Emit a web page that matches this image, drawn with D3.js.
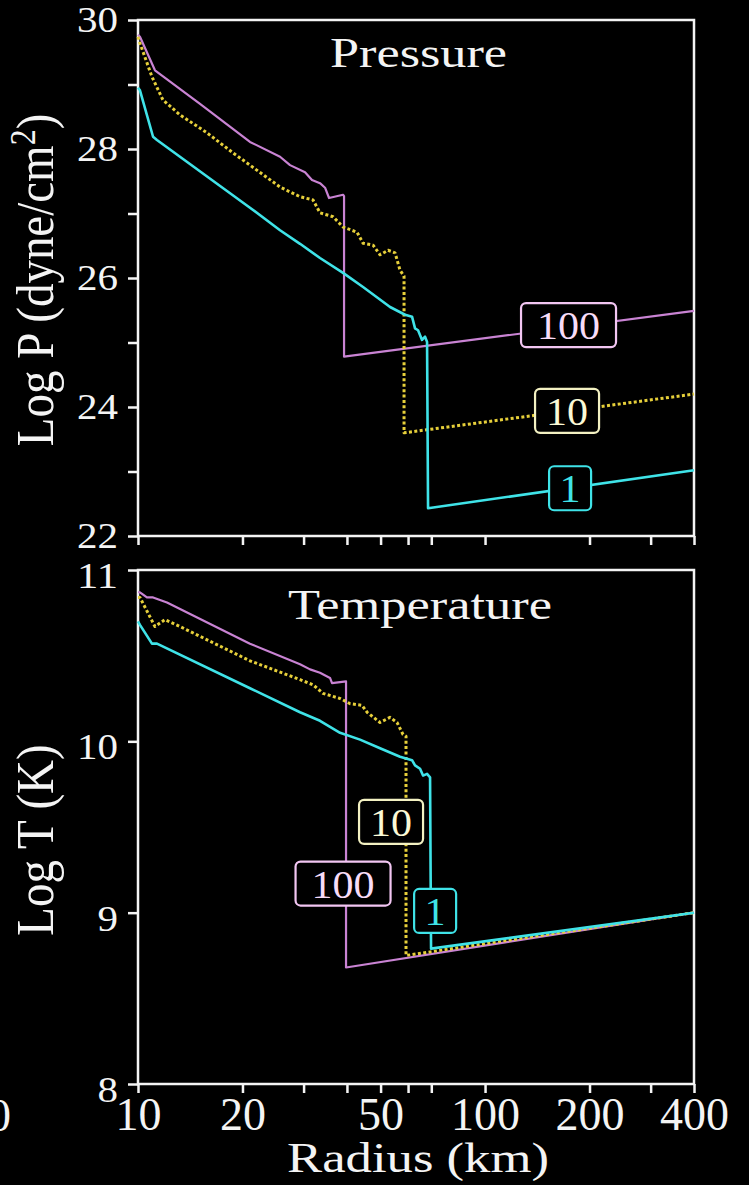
<html>
<head>
<script src="https://cdnjs.cloudflare.com/ajax/libs/d3/7.8.5/d3.min.js"></script>
<style>
  body { margin: 0; background: #000; }
  svg { display: block; }
  text { font-family: "Liberation Serif", "Times New Roman", Times, Tinos, serif; }
</style>
</head>
<body>
<script>

// ---- data (radius in km, log values) ----
var models = ["100", "10", "1"];
var modelColors = ["#c983d3", "#e6cf3a", "#3fe3e8"];
var boxColors = ["#f2c6f2", "#f3f1c2", "#3fe3e8"];
var boxText = ["#f8dcf8", "#fbf9d6", "#3fe3e8"];

var xTicks = [10, 20, 30, 40, 50, 60, 70, 100, 200, 300, 400];
var xTickLabels = [10, 20, 50, 100, 200, 400];
var pTicks = [22, 24, 26, 28, 30];
var pMinorTicks = [23, 25, 27, 29];
var tTicks = [8, 9, 10, 11];

var radiusP100 = [10, 10.13, 11.19, 15.09, 21.02, 25.66, 27.42, 30.29, 31.72, 33.45, 34.59, 35.52, 38.98, 39.24, 39.24, 400];
var logP100 = [29.77, 29.74, 29.22, 28.70, 28.11, 27.88, 27.75, 27.64, 27.52, 27.47, 27.40, 27.24, 27.29, 27.27, 24.78, 25.49];

var radiusP10 = [10, 10.13, 10.97, 11.80, 13.21, 15.81, 18.78, 21.02, 25.66, 29.30, 31.94, 33.45, 36.48, 38.98, 42.77, 44.51, 47.56, 49.82, 52.54, 55.04, 56.89, 58.42, 58.42, 400];
var logP10 = [29.74, 29.64, 29.12, 28.76, 28.53, 28.25, 27.94, 27.75, 27.41, 27.26, 27.21, 27.01, 26.95, 26.79, 26.71, 26.54, 26.51, 26.36, 26.43, 26.39, 26.12, 26.03, 23.60, 24.20];

var radiusP1 = [10, 10.13, 11.05, 11.34, 21.02, 25.66, 29.30, 33.45, 38.98, 44.51, 53.24, 58.81, 61.6, 62.84, 64.11, 65.83, 67.16, 68.06, 68.51, 400];
var logP1 = [28.95, 28.91, 28.19, 28.14, 27.09, 26.74, 26.53, 26.31, 26.08, 25.86, 25.55, 25.43, 25.40, 25.22, 25.19, 25.04, 25.09, 25.01, 22.43, 23.02];

var radiusT100 = [10, 10.13, 10.61, 11.05, 12.12, 21.02, 29.30, 31.31, 33.45, 35.75, 36.23, 39.76, 39.76, 400];
var logT100 = [10.87, 10.87, 10.84, 10.84, 10.81, 10.57, 10.45, 10.42, 10.40, 10.37, 10.34, 10.35, 8.68, 9.00];

var radiusT10 = [10, 10.13, 11.19, 11.96, 13.21, 21.02, 29.30, 31.94, 34.13, 38.21, 40.83, 44.22, 45.71, 49.82, 53.24, 55.77, 58.03, 59.19, 59.19, 400];
var logT10 = [10.84, 10.84, 10.67, 10.71, 10.67, 10.47, 10.36, 10.33, 10.28, 10.25, 10.22, 10.21, 10.17, 10.11, 10.14, 10.11, 10.04, 10.03, 8.75, 9.00];

var radiusT1 = [10, 10.13, 10.97, 11.34, 21.02, 29.30, 33.45, 38.21, 43.63, 49.82, 56.89, 61.6, 62.84, 64.97, 66.27, 68.06, 69.43, 69.89, 400];
var logT1 = [10.70, 10.68, 10.57, 10.57, 10.31, 10.17, 10.12, 10.05, 10.01, 9.96, 9.91, 9.89, 9.86, 9.84, 9.80, 9.81, 9.79, 8.79, 9.00];

// label positions (radius, log value) for the boxed model names
var pLabelRadius = [174, 172.3, 175.8];
var pLabelValue = [25.27, 23.94, 22.74];
var tLabelRadius = [38.98, 53.6, 71.8];
var tLabelValue = [9.17, 9.53, 9.01];

// ---- layout ----
var viz = { "width": 749, "height": 1185 };
var left = 138, right = 694;
var ink = "#f4f4f4";

var svg = d3.select("body").append("svg")
    .attr("width", viz.width)
    .attr("height", viz.height)
    .style("background", "#000");

var x = d3.scaleLog().domain([10, 400]).range([left, right]);
var yP = d3.scaleLinear().domain([22, 30]).range([536, 20]);
var yT = d3.scaleLinear().domain([8, 11]).range([1084, 570]);

function stretchText(sel, perChar) {
    sel.attr("textLength", function() { return this.textContent.length * perChar; })
       .attr("lengthAdjust", "spacingAndGlyphs");
}

function drawPanel(y, majorTicks, minorTicks, showXLabels, labelShift) {
    var g = svg.append("g");

    // frame
    g.append("rect")
        .attr("x", left).attr("y", y.range()[1])
        .attr("width", right - left).attr("height", y.range()[0] - y.range()[1])
        .attr("fill", "none").attr("stroke", ink).attr("stroke-width", 2.5);

    var yAxis = g.append("g")
        .attr("transform", "translate(" + left + ",0)")
        .call(d3.axisLeft(y).tickValues(majorTicks).tickSize(10).tickSizeOuter(0).tickPadding(10).tickFormat(d3.format("d")));
    if (minorTicks.length) {
        g.append("g")
            .attr("transform", "translate(" + left + ",0)")
            .call(d3.axisLeft(y).tickValues(minorTicks).tickSize(10).tickSizeOuter(0).tickFormat(""));
    }

    var xAxis = g.append("g")
        .attr("transform", "translate(0," + y.range()[0] + ")")
        .call(d3.axisBottom(x).tickValues(xTicks).tickSize(9).tickSizeOuter(0).tickPadding(4)
            .tickFormat(function(d) { return (showXLabels && xTickLabels.indexOf(d) >= 0) ? d : ""; }));

    g.selectAll(".domain").remove();
    g.selectAll("g").attr("font-family", null);
    g.selectAll(".tick line").attr("stroke", ink).attr("stroke-width", 2.5);

    yAxis.selectAll("text")
        .attr("fill", ink).attr("font-size", 36)
        .attr("y", labelShift)
        .call(stretchText, 20.5);
    xAxis.selectAll("text")
        .attr("fill", ink).attr("font-size", 46);
    return g;
}

function drawSeries(g, y, radii, values, idx) {
    var pts = radii.map(function(r, i) { return [r, values[i]]; });
    var line = d3.line().x(function(d) { return x(d[0]); }).y(function(d) { return y(d[1]); });
    var path = g.append("path")
        .attr("d", line(pts))
        .attr("fill", "none")
        .attr("stroke", modelColors[idx])
        .attr("stroke-linejoin", "round");
    if (idx == 1) {
        path.attr("stroke-width", 3).attr("stroke-dasharray", "3,2.4");
    } else {
        path.attr("stroke-width", idx == 0 ? 2.2 : 2.6);
    }
}

function drawLabels(g, y, radii, values) {
    models.forEach(function(m, i) {
        var cx = x(radii[i]), cy = y(values[i]);
        var w = m.length == 3 ? 95 : (m.length == 2 ? 64 : 42);
        var h = 44;
        g.append("rect")
            .attr("x", cx - w / 2).attr("y", cy - h / 2)
            .attr("width", w).attr("height", h)
            .attr("rx", 5)
            .attr("fill", "#000")
            .attr("stroke", boxColors[i]).attr("stroke-width", 2.2);
        g.append("text")
            .attr("x", cx).attr("y", cy + 14)
            .attr("text-anchor", "middle")
            .attr("font-size", 40)
            .attr("fill", boxText[i])
            .text(m)
            .call(stretchText, 21);
    });
}

// ---- pressure panel ----
var pressurePanel = drawPanel(yP, pTicks, pMinorTicks, false, 0);
drawSeries(pressurePanel, yP, radiusP100, logP100, 0);
drawSeries(pressurePanel, yP, radiusP10, logP10, 1);
drawSeries(pressurePanel, yP, radiusP1, logP1, 2);
drawLabels(pressurePanel, yP, pLabelRadius, pLabelValue);

svg.append("text")
    .attr("x", 418.5).attr("y", 67)
    .attr("text-anchor", "middle")
    .attr("font-size", 42)
    .attr("fill", ink)
    .attr("textLength", 177).attr("lengthAdjust", "spacingAndGlyphs")
    .text("Pressure");

var pLabel = svg.append("text")
    .attr("transform", "translate(53,280) scale(1.12,1) rotate(-90)")
    .attr("text-anchor", "middle")
    .attr("font-size", 47)
    .attr("fill", ink);
pLabel.append("tspan").text("Log P (dyne/cm");
pLabel.append("tspan").attr("dy", -16).attr("font-size", 32).text("2");
pLabel.append("tspan").attr("dy", 16).text(")");

// ---- temperature panel ----
var tempPanel = drawPanel(yT, tTicks, [], true, 6);
drawSeries(tempPanel, yT, radiusT100, logT100, 0);
drawSeries(tempPanel, yT, radiusT10, logT10, 1);
drawSeries(tempPanel, yT, radiusT1, logT1, 2);
drawLabels(tempPanel, yT, tLabelRadius, tLabelValue);

svg.append("text")
    .attr("x", 420).attr("y", 619)
    .attr("text-anchor", "middle")
    .attr("font-size", 42)
    .attr("fill", ink)
    .attr("textLength", 264).attr("lengthAdjust", "spacingAndGlyphs")
    .text("Temperature");

svg.append("text")
    .attr("transform", "translate(53,840) scale(1.12,1) rotate(-90)")
    .attr("text-anchor", "middle")
    .attr("font-size", 47)
    .attr("fill", ink)
    .text("Log T (K)");

svg.append("text")
    .attr("x", 418).attr("y", 1172)
    .attr("text-anchor", "middle")
    .attr("font-size", 42)
    .attr("fill", ink)
    .attr("textLength", 262).attr("lengthAdjust", "spacingAndGlyphs")
    .text("Radius (km)");

// clipped tick label from the neighbouring figure at the left edge
svg.append("text")
    .attr("x", 11).attr("y", 1131)
    .attr("text-anchor", "end")
    .attr("font-size", 46)
    .attr("fill", ink)
    .text("0");

</script>
</body>
</html>
